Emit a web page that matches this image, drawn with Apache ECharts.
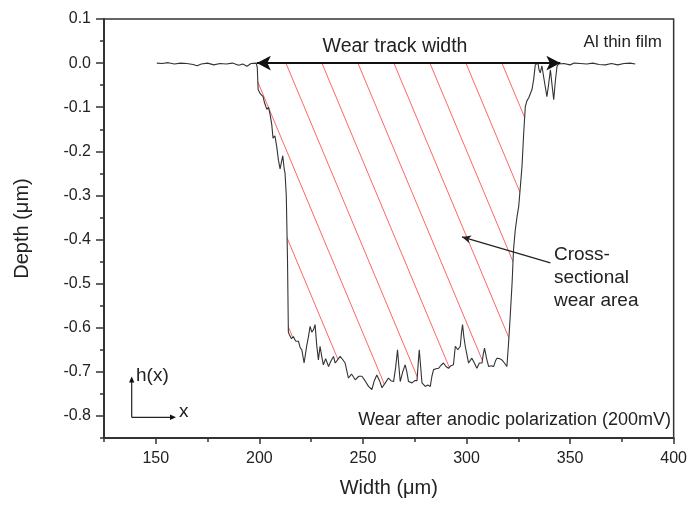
<!DOCTYPE html>
<html>
<head>
<meta charset="utf-8">
<script src="https://cdn.jsdelivr.net/npm/echarts@6/dist/echarts.min.js"></script>
<style>
  html, body { margin: 0; padding: 0; background: #fff; }
  #chart { width: 690px; height: 506px; }
</style>
</head>
<body>
<div id="chart"></div>
<script>
// Profilometer trace: width (um) and depth (um)
var widthX = [
  150.5, 153, 156, 159, 162, 165, 168, 170, 172, 175, 178, 181, 184, 187, 190, 192, 194, 196, 198.5,
  199.0, 199.4, 200.5, 201.8, 202.5, 203.6, 204.4, 205.2, 206.0, 206.6, 207.5, 208.4, 209.2, 210.0,
  211.3, 212.0, 212.4, 213.0, 213.6, 214.0, 214.5, 215.5, 216.4, 217.5, 218.9, 219.7, 220.5, 221.6,
  222.9, 223.7, 224.5, 225.3, 226.1, 226.9, 227.7, 228.5, 229.3, 230.1, 230.9, 232.0, 233.4, 234.6,
  235.8, 236.6, 237.4, 238.2, 239.0, 240.2, 241.4, 243.0, 244.5, 246.3, 248.0, 249.5, 251.0, 252.7,
  254.3, 255.5, 256.7, 258.0, 259.2, 260.8, 262.3, 263.5, 264.8, 265.8, 266.7, 267.4, 268.0, 269.2,
  270.4, 271.2, 272.0, 273.7, 275.0, 276.1, 276.7, 277.2, 277.9, 278.5, 280.1, 281.3, 282.5, 283.3,
  284.1, 285.3, 286.5, 287.7, 288.9, 290.1, 291.3, 292.5, 293.7, 294.6, 295.8, 297.0, 297.6, 298.1,
  298.7, 299.4, 301.0, 302.6, 303.8, 305.0, 306.2, 307.5, 308.1, 308.7, 309.7, 310.7, 312.0, 313.1,
  314.0, 314.7, 316.0, 317.1, 318.3, 319.5, 320.3, 321.1, 322.0, 322.7, 323.5, 324.4, 325.2, 326.0,
  326.8, 327.6, 328.4, 329.2, 330.0, 330.8, 331.6, 332.4, 333.2, 334.5, 335.0, 335.6, 336.4, 337.2,
  338.0, 338.8, 339.6, 340.5, 341.3, 342.1, 342.9, 343.7, 344.5, 345.3,
  347, 350, 352, 355, 358, 361, 364, 367, 370, 373, 376, 379, 381.5
];
var depthY = [
  0.000, -0.001, 0.001, -0.002, 0.000, -0.001, -0.003, -0.006, -0.002, 0.000, -0.004, -0.001, -0.002, 0.000, -0.005, -0.002, -0.007, -0.001, 0.000,
  -0.010, -0.060, -0.070, -0.076, -0.090, -0.105, -0.100, -0.117, -0.140, -0.170, -0.165, -0.190, -0.220, -0.240,
  -0.210, -0.240, -0.250, -0.300, -0.450, -0.610, -0.616, -0.625, -0.620, -0.630, -0.631, -0.645, -0.650, -0.680,
  -0.640, -0.620, -0.597, -0.610, -0.605, -0.593, -0.640, -0.673, -0.642, -0.665, -0.684, -0.670, -0.688, -0.675,
  -0.665, -0.680, -0.684, -0.670, -0.665, -0.672, -0.680, -0.714, -0.705, -0.718, -0.710, -0.710, -0.720, -0.733,
  -0.740, -0.720, -0.707, -0.720, -0.736, -0.725, -0.714, -0.720, -0.722, -0.690, -0.650, -0.690, -0.722, -0.700,
  -0.684, -0.700, -0.722, -0.725, -0.720, -0.720, -0.680, -0.650, -0.690, -0.725, -0.733, -0.730, -0.733, -0.710,
  -0.695, -0.693, -0.692, -0.685, -0.680, -0.688, -0.692, -0.686, -0.684, -0.642, -0.650, -0.642, -0.610, -0.593,
  -0.620, -0.642, -0.680, -0.669, -0.680, -0.692, -0.680, -0.680, -0.660, -0.646, -0.670, -0.688, -0.686, -0.688,
  -0.675, -0.669, -0.670, -0.673, -0.680, -0.688, -0.635, -0.574, -0.499, -0.423, -0.380, -0.348, -0.325, -0.280,
  -0.234, -0.159, -0.098, -0.085, -0.079, -0.076, -0.060, -0.038, -0.004, 0.000, -0.015, -0.022, -0.006, -0.030,
  -0.053, -0.076, -0.050, -0.015, -0.050, -0.083, -0.040, -0.007, -0.002, 0.000,
  -0.001, -0.004, 0.000, -0.001, -0.002, 0.000, -0.003, -0.004, -0.001, -0.004, -0.001, 0.000, -0.002
];

// worn region and annotation anchors (data units)
var trackStart = 198.8;
var trackEnd = 345.3;
var wearRegion = [198.5, 334.5];
var pointerFrom = [340.5, -0.453];
var pointerTo = [297.8, -0.394];

var xTicks = [150, 200, 250, 300, 350, 400];
var yTicks = [0.1, 0, -0.1, -0.2, -0.3, -0.4, -0.5, -0.6, -0.7, -0.8];

var profile = widthX.map(function (x, i) { return [x, depthY[i]]; });
var worn = profile.filter(function (p) { return p[0] >= wearRegion[0] && p[0] <= wearRegion[1]; });

// red diagonal hatch used to fill the worn area
var tile = document.createElement('canvas');
tile.width = 36;
tile.height = 86;
var tc = tile.getContext('2d');
tc.strokeStyle = 'rgba(255,50,50,0.75)';
tc.lineWidth = 1;
var c = 7.5;
[c - 36, c].forEach(function (x0) {
  tc.beginPath();
  tc.moveTo(x0 - 2, -4.8);
  tc.lineTo(x0 + 38, 90.8);
  tc.stroke();
});

var FONT = 'Liberation Sans, Arial, sans-serif';
var TXT = '#222';

var chart = echarts.init(document.getElementById('chart'));
chart.setOption({
  animation: false,
  backgroundColor: '#fff',
  grid: {
    left: 104, right: 15, top: 19, bottom: 68,
    show: true, borderColor: '#333', borderWidth: 1.5, backgroundColor: 'transparent'
  },
  xAxis: [{
    type: 'value', min: 125, max: 400, interval: 25,
    name: 'Width (\u03bcm)', nameLocation: 'middle', nameGap: 40,
    nameTextStyle: { fontSize: 20, color: TXT, fontFamily: FONT },
    axisLine: { show: true, onZero: false, lineStyle: { color: '#333', width: 2 } },
    axisTick: { show: true, customValues: xTicks, length: 6, lineStyle: { color: '#333', width: 1.5 } },
    axisLabel: { customValues: xTicks, fontSize: 16, color: TXT, fontFamily: FONT, margin: 13 },
    splitLine: { show: false }
  }, {
    type: 'value', min: 125, max: 400, interval: 25, position: 'bottom',
    axisLine: { show: false, onZero: false },
    axisTick: { show: true, length: 4, lineStyle: { color: '#333', width: 1.5 } },
    axisLabel: { show: false },
    splitLine: { show: false }
  }],
  yAxis: [{
    type: 'value', min: -0.85, max: 0.1, interval: 0.05,
    name: 'Depth (\u03bcm)', nameLocation: 'middle', nameGap: 72,
    nameTextStyle: { fontSize: 20, color: TXT, fontFamily: FONT },
    axisLine: { show: true, onZero: false, lineStyle: { color: '#333', width: 2 } },
    axisTick: { show: true, customValues: yTicks, length: 8, lineStyle: { color: '#333', width: 1.5 } },
    axisLabel: {
      customValues: yTicks, fontSize: 16, color: TXT, fontFamily: FONT, margin: 13,
      formatter: function (v) { return (Math.abs(v) < 1e-9 ? 0 : v).toFixed(1); }
    },
    splitLine: { show: false }
  }, {
    type: 'value', min: -0.85, max: 0.1, interval: 0.05, position: 'left',
    axisLine: { show: false, onZero: false },
    axisTick: { show: true, length: 4, lineStyle: { color: '#333', width: 1.5 } },
    axisLabel: { show: false },
    splitLine: { show: false }
  }],
  series: [{
    name: 'hatch',
    type: 'line',
    data: worn,
    symbol: 'none',
    silent: true,
    z: 1,
    lineStyle: { width: 0, opacity: 0 },
    areaStyle: { color: { image: tile, repeat: 'repeat' }, opacity: 1 }
  }, {
    name: 'profile',
    type: 'line',
    data: profile,
    symbol: 'none',
    z: 3,
    lineStyle: { color: '#333', width: 1.1 },
    markLine: {
      silent: true,
      animation: false,
      label: { show: false },
      lineStyle: { type: 'solid', color: '#111' },
      data: [
        [{ coord: [trackStart, 0], symbol: 'arrow', symbolSize: [11, 14], lineStyle: { width: 2, type: 'solid', color: '#111' } },
         { coord: [trackEnd, 0], symbol: 'arrow', symbolSize: [11, 14] }],
        [{ coord: pointerFrom, symbol: 'none', lineStyle: { width: 1.2, type: 'solid', color: '#222' } },
         { coord: pointerTo, symbol: 'arrow', symbolSize: [6, 9] }]
      ]
    }
  }],
  graphic: [
    { type: 'text', x: 395, y: 47, style: { text: 'Wear track width', font: '19.5px ' + FONT, fill: TXT, textAlign: 'center', textVerticalAlign: 'middle' } },
    { type: 'text', x: 662, y: 42, style: { text: 'Al thin film', font: '17px ' + FONT, fill: TXT, textAlign: 'right', textVerticalAlign: 'middle' } },
    { type: 'text', x: 554, y: 243, style: { text: 'Cross-\nsectional\nwear area', font: '19px ' + FONT, lineHeight: 23, fill: TXT, textAlign: 'left', textVerticalAlign: 'top' } },
    { type: 'text', x: 671, y: 420, style: { text: 'Wear after anodic polarization (200mV)', font: '18px ' + FONT, fill: TXT, textAlign: 'right', textVerticalAlign: 'middle' } },
    { type: 'line', shape: { x1: 131.7, y1: 417.3, x2: 131.7, y2: 381 }, style: { stroke: '#222', lineWidth: 1.2 } },
    { type: 'line', shape: { x1: 131.7, y1: 417.3, x2: 171, y2: 417.3 }, style: { stroke: '#222', lineWidth: 1.2 } },
    { type: 'polygon', shape: { points: [[131.7, 376.5], [129, 382.5], [134.4, 382.5]] }, style: { fill: '#111' } },
    { type: 'polygon', shape: { points: [[176, 417.3], [170, 414.6], [170, 420]] }, style: { fill: '#111' } },
    { type: 'text', x: 136, y: 376, style: { text: 'h(x)', font: '19px ' + FONT, fill: TXT, textAlign: 'left', textVerticalAlign: 'middle' } },
    { type: 'text', x: 179, y: 412, style: { text: 'x', font: '19px ' + FONT, fill: TXT, textAlign: 'left', textVerticalAlign: 'middle' } }
  ]
});
</script>
</body>
</html>
